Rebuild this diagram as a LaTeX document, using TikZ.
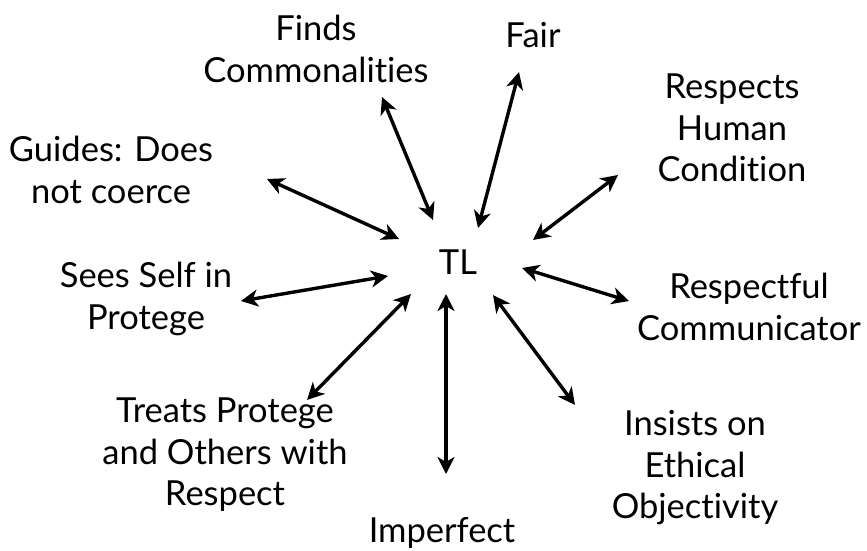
\documentclass[tikz,border=0pt]{standalone}
\usepackage{fontspec}
\setmainfont{Lato}[Ligatures=CommonOff]
\usetikzlibrary{arrows.meta}
\begin{document}
\begin{tikzpicture}[x=1pt,y=-1pt,
  lbl/.style={align=center,font=\fontsize{34.5}{41.5}\selectfont,inner sep=0pt},
  conn/.style={line width=3.4pt,{Stealth[length=17pt,width=17pt,inset=5pt]}-{Stealth[length=17pt,width=17pt,inset=5pt]}}]
\useasboundingbox (0,0) rectangle (867,550);
\node[lbl] (tl) at (458,262) {TL};
\node[lbl] (finds) at (316,49) {Finds\\Commonalities};
\node[lbl] (fair) at (533,35) {Fair};
\node[lbl] (resp) at (732,128) {Respects\\Human\\Condition};
\node[lbl] (guid) at (111,170) {Guides: Does\\not coerce};
\node[lbl] (sees) at (146,299) {Sees Self in\\Protege};
\node[lbl] (comm) at (749,307) {Respectful\\Communicator};
\node[lbl] (treat) at (225,455) {Treats Protege\\and Others with\\Respect};
\node[lbl] (ins) at (695,468) {Insists on\\Ethical\\Objectivity};
\node[lbl] (imp) at (442,533) {Imperfect};
\coordinate (a1) at (382,97); \coordinate (b1) at (433,220);
\coordinate (a2) at (519,72); \coordinate (b2) at (478,228);
\coordinate (a3) at (618,175); \coordinate (b3) at (533,240);
\coordinate (a4) at (629,301); \coordinate (b4) at (522,268);
\coordinate (a5) at (575,405); \coordinate (b5) at (493,295);
\coordinate (a6) at (446,474); \coordinate (b6) at (446,294);
\coordinate (a7) at (307,400); \coordinate (b7) at (411,294);
\coordinate (a8) at (241,301); \coordinate (b8) at (388,276);
\coordinate (a9) at (267,179); \coordinate (b9) at (399,239);
\foreach \i in {1,...,9} \draw[conn] (a\i) -- (b\i);
\end{tikzpicture}
\end{document}
